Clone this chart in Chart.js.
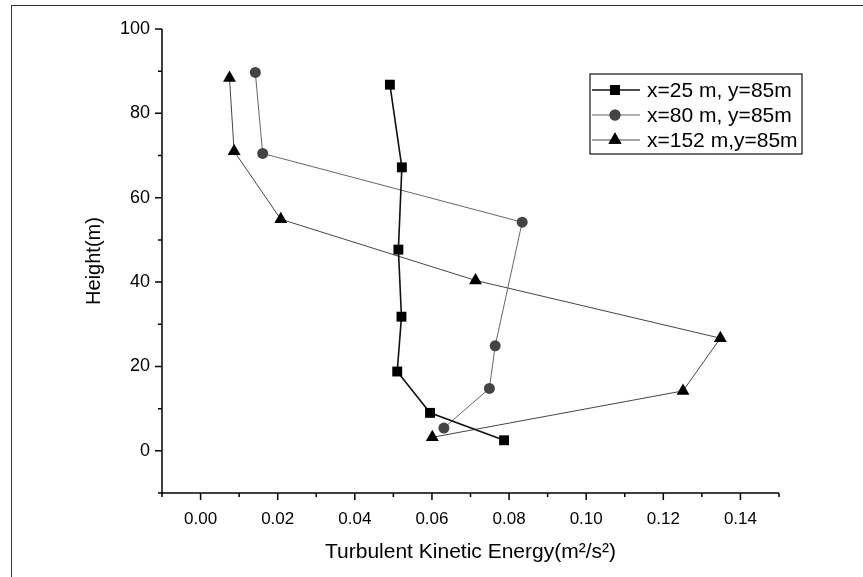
<!DOCTYPE html>
<html>
<head>
<meta charset="utf-8">
<script src="https://cdn.jsdelivr.net/npm/chart.js@4"></script>
<style>
  html, body { margin: 0; padding: 0; background: #fff; }
  #wrap { position: relative; width: 863px; height: 577px; }
  #frame { position: absolute; left: 11px; top: 5px; right: 0; bottom: 0;
           border-left: 1px solid #333; border-top: 1px solid #333; pointer-events: none; }
</style>
</head>
<body>
<div id="wrap">
  <canvas id="chart" width="863" height="577"></canvas>
  <div id="frame"></div>
</div>
<script>
// series names
const seriesNames = ["x=25 m, y=85m", "x=80 m, y=85m", "x=152 m,y=85m"];

// x = turbulent kinetic energy (m2/s2), y = height (m)
const tke25 = [0.0491, 0.0522, 0.0513, 0.0521, 0.0510, 0.0595, 0.0787];
const h25   = [86.8, 67.2, 47.7, 31.8, 18.8, 9.0, 2.5];

const tke80 = [0.0142, 0.0161, 0.0834, 0.0764, 0.0749, 0.0631];
const h80   = [89.7, 70.5, 54.2, 24.9, 14.8, 5.4];

const tke152 = [0.0075, 0.0087, 0.0208, 0.0713, 0.1348, 0.1251, 0.0601];
const h152   = [88.4, 71.0, 54.9, 40.4, 26.7, 14.2, 3.2];

const xTicks = [0.00, 0.02, 0.04, 0.06, 0.08, 0.10, 0.12, 0.14];
const yTicks = [0, 20, 40, 60, 80, 100];

const toPoints = (xs, ys) => xs.map((x, i) => ({ x: x, y: ys[i] }));

const FONT = "'Liberation Sans', Arial, sans-serif";

// draws the axis lines and the outward major / minor tick marks
const tickMarks = {
  id: "tickMarks",
  afterDraw(chart) {
    const ctx = chart.ctx;
    const xs = chart.scales.x, ys = chart.scales.y;
    const area = chart.chartArea;
    ctx.save();
    ctx.strokeStyle = "#000";
    ctx.lineWidth = 1.5;
    ctx.beginPath();
    ctx.moveTo(area.left, area.top);
    ctx.lineTo(area.left, area.bottom);
    ctx.lineTo(area.right, area.bottom);
    ctx.stroke();
    ctx.beginPath();
    for (let v = -10; v <= 100; v += 10) {
      const p = ys.getPixelForValue(v);
      const len = v % 20 === 0 ? 7 : 4;
      ctx.moveTo(area.left, p);
      ctx.lineTo(area.left - len, p);
    }
    for (let k = -1; k <= 15; k++) {
      const p = xs.getPixelForValue(k / 100);
      const len = k % 2 === 0 ? 7 : 4;
      ctx.moveTo(p, area.bottom);
      ctx.lineTo(p, area.bottom + len);
    }
    ctx.stroke();
    ctx.restore();
  }
};

// legend box in the upper right of the plot
const boxLegend = {
  id: "boxLegend",
  afterDraw(chart) {
    const ctx = chart.ctx;
    const left = 590, top = 74, w = 212, h = 80;
    ctx.save();
    ctx.fillStyle = "#fff";
    ctx.fillRect(left, top, w, h);
    ctx.strokeStyle = "#111";
    ctx.lineWidth = 1.2;
    ctx.strokeRect(left, top, w, h);
    ctx.font = "21px " + FONT;
    ctx.textBaseline = "middle";
    chart.data.datasets.forEach((ds, i) => {
      const cy = top + 16 + i * 25;
      ctx.strokeStyle = ds.borderColor;
      ctx.lineWidth = ds.borderWidth;
      ctx.beginPath();
      ctx.moveTo(left + 2, cy);
      ctx.lineTo(left + 50, cy);
      ctx.stroke();
      ctx.fillStyle = ds.pointBackgroundColor;
      Chart.helpers.drawPoint(ctx, {
        pointStyle: ds.pointStyle,
        radius: ds.pointRadius,
        borderWidth: 0
      }, left + 25, cy);
      ctx.fill();
      ctx.fillStyle = "#000";
      ctx.fillText(ds.label, left + 57, cy + 1);
    });
    ctx.restore();
  }
};

new Chart(document.getElementById("chart"), {
  type: "scatter",
  data: {
    datasets: [
      {
        label: seriesNames[0],
        data: toPoints(tke25, h25),
        showLine: true,
        borderColor: "#111",
        borderWidth: 1.6,
        pointStyle: "rect",
        pointRadius: 7,
        pointBackgroundColor: "#000",
        pointBorderWidth: 0
      },
      {
        label: seriesNames[1],
        data: toPoints(tke80, h80),
        showLine: true,
        borderColor: "#666",
        borderWidth: 1,
        pointStyle: "circle",
        pointRadius: 5.5,
        pointBackgroundColor: "#444",
        pointBorderWidth: 0
      },
      {
        label: seriesNames[2],
        data: toPoints(tke152, h152),
        showLine: true,
        borderColor: "#444",
        borderWidth: 1,
        pointStyle: "triangle",
        pointRadius: 7.5,
        pointBackgroundColor: "#000",
        pointBorderWidth: 0
      }
    ]
  },
  options: {
    responsive: false,
    animation: false,
    layout: { padding: { left: 80, top: 29, right: 84, bottom: 12 } },
    plugins: {
      legend: { display: false },
      tooltip: { enabled: false }
    },
    scales: {
      x: {
        type: "linear",
        min: -0.01,
        max: 0.15,
        afterBuildTicks: (s) => { s.ticks = xTicks.map(v => ({ value: v })); },
        afterFit: (s) => { s.height = 72; },
        grid: { display: false, drawTicks: false },
        border: { display: false },
        ticks: {
          color: "#000",
          font: { family: FONT, size: 17 },
          padding: 16,
          callback: (v) => v.toFixed(2)
        },
        title: {
          display: true,
          text: "Turbulent Kinetic Energy(m²/s²)",
          color: "#000",
          font: { family: FONT, size: 21 },
          padding: { top: 8, bottom: 0 }
        }
      },
      y: {
        type: "linear",
        min: -10,
        max: 100,
        afterBuildTicks: (s) => { s.ticks = yTicks.map(v => ({ value: v })); },
        afterFit: (s) => { s.width = 82; },
        grid: { display: false, drawTicks: false },
        border: { display: false },
        ticks: {
          color: "#000",
          font: { family: FONT, size: 18 },
          padding: 12
        },
        title: {
          display: true,
          text: "Height(m)",
          color: "#000",
          font: { family: FONT, size: 20 },
          padding: { top: 2, bottom: 0 }
        }
      }
    }
  },
  plugins: [tickMarks, boxLegend]
});
</script>
</body>
</html>
